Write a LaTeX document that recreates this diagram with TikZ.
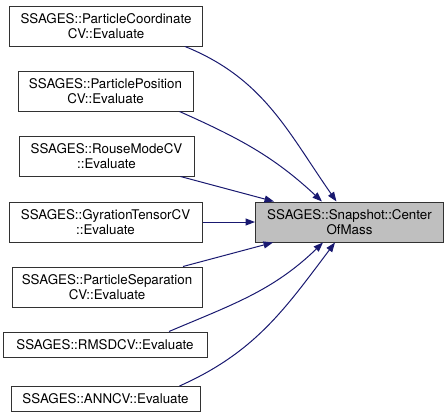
\documentclass[tikz,border=0pt]{standalone}
\usepackage{fontspec}
\setmainfont{TeX Gyre Heros}
\usepackage{tikz}
\usetikzlibrary{positioning,arrows.meta,calc}
\definecolor{azulnoche}{RGB}{25,25,112}
\definecolor{grisfondo}{RGB}{191,191,191}
\definecolor{borde}{RGB}{50,50,50}

\begin{document}
\begin{tikzpicture}[x=1pt, y=1pt,
  funcion/.style={draw=borde, fill=white, line width=1pt,
    minimum width=#1, minimum height=40pt, inner sep=2pt,
    align=center, font=\fontsize{13.33}{15}\selectfont},
  destino/.style={funcion=#1, fill=grisfondo},
  flecha/.style={-{Triangle[length=9.5pt,width=7pt]}, line width=1pt,
    azulnoche},
]
  \useasboundingbox (0,0) rectangle (448,-415);
  % Funciones que llaman
  \node[funcion=193pt] (f1) at (106,-26)
    {SSAGES::ParticleCoordinate\\CV::Evaluate};
  \node[funcion=175pt] (f2) at (105.5,-91)
    {SSAGES::ParticlePosition\\CV::Evaluate};
  \node[funcion=175pt] (f3) at (106.5,-156)
    {SSAGES::RouseModeCV\\::Evaluate};
  \node[funcion=193pt] (f4) at (105.5,-222)
    {SSAGES::GyrationTensorCV\\::Evaluate};
  \node[funcion=190pt] (f5) at (107,-287)
    {SSAGES::ParticleSeparation\\CV::Evaluate};
  \node[funcion=204pt, minimum height=25pt] (f6) at (105,-344.5)
    {SSAGES::RMSDCV::Evaluate};
  \node[funcion=189pt, minimum height=25pt] (f7) at (105.5,-399)
    {SSAGES::ANNCV::Evaluate};
  % Funcion llamada
  \node[destino=188pt] (cm) at (349.5,-222)
    {SSAGES::Snapshot::Center\\OfMass};
  % Flechas hacia el centro de masa
  \draw[flecha] ($(f1.south)+(79,0)$) to[out=-22,in=125] ($(cm.north)+(-13,0)$);
  \draw[flecha] ($(f2.south)+(74,0)$) to[out=-24,in=137] ($(cm.north)+(-27.5,0)$);
  \draw[flecha] ($(f3.south)+(74,0)$) -- ($(cm.north)+(-75.5,0)$);
  \draw[flecha] (f4) -- (cm);
  \draw[flecha] ($(f5.north)+(76,0)$) -- ($(cm.south)+(-76.5,0)$);
  \draw[flecha] ($(f6.north)+(64,0)$) to[out=23,in=-136] ($(cm.south)+(-26.5,0)$);
  \draw[flecha] ($(f7.north)+(74,0)$) to[out=24,in=-127] ($(cm.south)+(-14.5,0)$);
\end{tikzpicture}
\end{document}
